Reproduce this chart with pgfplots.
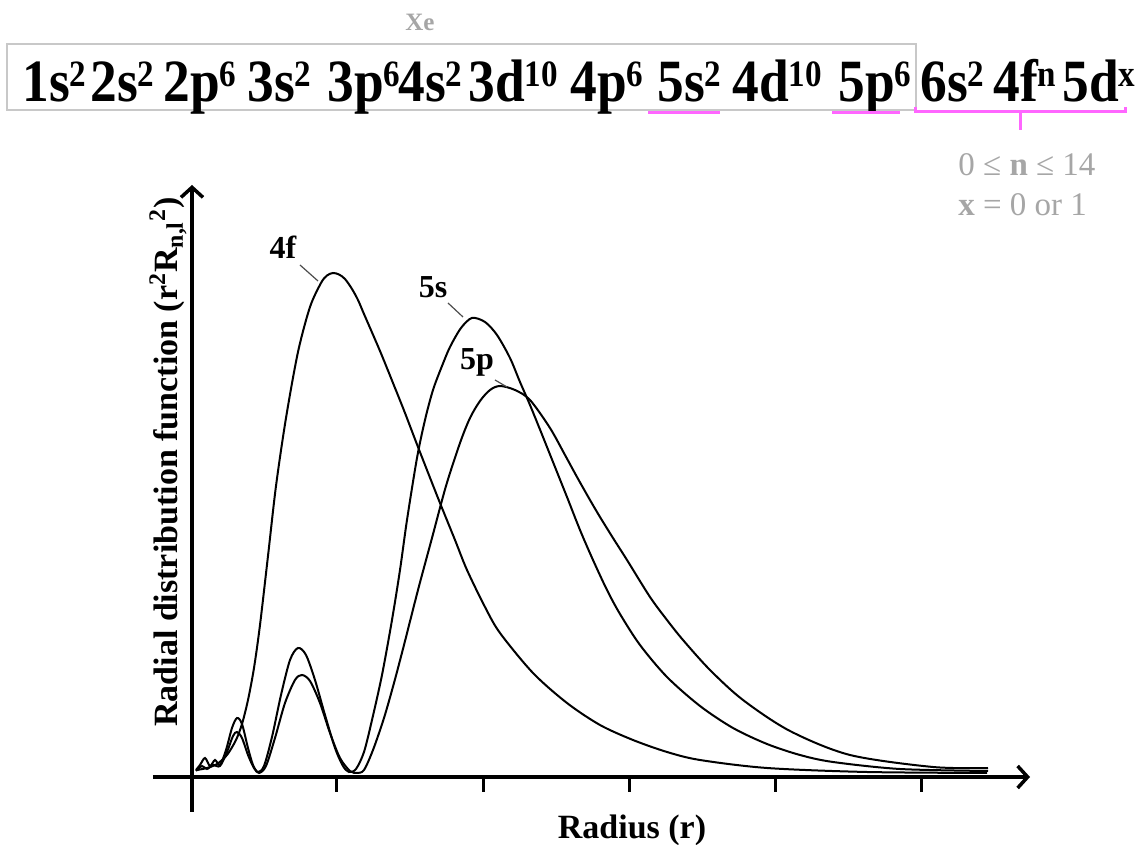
\documentclass[border=0pt]{standalone}
\usepackage{fontspec}
\setmainfont{Liberation Serif}
\usepackage{graphicx}
\usepackage{pgfplots}
\pgfplotsset{compat=1.18}
\usetikzlibrary{arrows.meta}
\definecolor{mag}{HTML}{FF66FF}
\definecolor{gtxt}{HTML}{A6A6A6}
\definecolor{boxc}{HTML}{C8C8C8}
\newcommand{\sups}[1]{\raisebox{7.6pt}{\scalebox{0.62}{#1}}}
\newcommand{\term}[2]{\node[anchor=base west, inner sep=0pt, xscale=0.89, font=\fontsize{30}{34}\selectfont\bfseries] at (axis cs:#1,675) {#2};}
\begin{document}
\begin{tikzpicture}
\begin{axis}[
  scale only axis, width=438.5pt, height=313.5pt,
  xmin=-39, xmax=838, ymin=-35, ymax=592,
  axis lines=middle,
  axis line style={line width=1.75pt, -{Straight Barb[length=5pt,width=11pt]}},
  xtick={145,291,437,583,729}, xticklabels={}, ytick=\empty,
  tick align=outside, major tick length=7.5pt,
  tick style={line width=1.5pt, black},
  clip=false,
]
% 4f
\addplot[black, line width=1pt, smooth] coordinates {
(5,7) (15,9) (25,13) (35,22) (44,37) (50,53) (56,77) (62,109) (68,152) (76,221) (84,291) (94,359) (106,425) (118,470) (129,494) (135,501.5) (141,504) (147,502.5) (153,498) (160,488) (166,477) (172,463) (188,426) (201,394) (213,364) (226,330) (246,279) (263,237) (275,207) (293,170) (308,144) (341,104) (375,74) (408,52) (441,37) (475,25) (508,17) (575,9) (675,5) (795,4)
};
% 5s
\addplot[black, line width=1pt, smooth] coordinates {
(4,7) (8,12) (13,19) (18,11) (23,17) (28,12) (34,27) (40,49) (45,59) (50,53) (56,29) (61,12) (66,5) (72,11) (80,40) (89,82) (98,117) (106,129) (114,122) (123,97) (133,62) (143,29) (151,11) (157,5) (164,8) (172,25) (180,57) (190,102) (200,157) (208,207) (215,257) (225,319) (233,357) (241,387) (250,411) (258,430) (269,449) (280,459) (293,455) (305,442) (318,419) (328,395) (338,372) (351,340) (363,310) (375,280) (388,247) (401,217) (415,187) (428,163) (448,132) (475,100) (508,71) (541,49) (575,33) (608,22) (641,15) (708,8) (796,6)
};
% 5p
\addplot[black, line width=1pt, smooth] coordinates {
(4,6) (10,11) (15,8) (21,12) (28,11) (35,25) (41,41) (45,45) (50,39) (56,22) (62,9) (67,4) (74,11) (83,39) (93,74) (103,97) (110,102) (118,96) (128,74) (138,44) (148,19) (158,6) (165,4) (172,7) (181,27) (192,59) (202,94) (212,132) (226,187) (240,239) (254,291) (268,334) (278,359) (288,376) (298,387) (308,391) (323,387) (338,377) (358,349) (373,322) (385,300) (398,277) (408,260) (421,239) (435,217) (458,180) (475,157) (491,137) (518,107) (551,77) (598,46) (658,22) (741,10) (796,9)
};
% leader lines and curve labels
\draw[black!70, line width=0.6pt] (axis cs:108,512) -- (axis cs:126,496);
\draw[black!70, line width=0.6pt] (axis cs:256,474) -- (axis cs:271,460);
\draw[black!70, line width=0.6pt] (axis cs:303,397) -- (axis cs:315,390);
\node[font=\fontsize{16}{19}\selectfont\bfseries] at (axis cs:91,530) {4f};
\node[font=\fontsize{16}{19}\selectfont\bfseries] at (axis cs:241,490) {5s};
\node[font=\fontsize{16}{19}\selectfont\bfseries] at (axis cs:285,415) {5p};
% axis labels
\node[rotate=90, font=\fontsize{17}{20}\selectfont\bfseries] at (axis cs:-24,315) {Radial distribution function (r\textsuperscript{2}R\textsubscript{n,l}\textsuperscript{2})};
\node[font=\fontsize{17}{20}\selectfont\bfseries] at (axis cs:440,-53) {Radius (r)};
% top configuration
\node[text=gtxt, font=\fontsize{12.5}{15}\selectfont\bfseries] at (axis cs:228,755) {Xe};
\draw[boxc, line width=0.75pt] (axis cs:-185,667) rectangle (axis cs:724,733);
\term{-170}{1s\sups{2}}
\term{-102}{2s\sups{2}}
\term{-29}{2p\sups{6}}
\term{55}{3s\sups{2}}
\term{135}{3p\sups{6}}
\term{206}{4s\sups{2}}
\term{276}{3d\sups{10}}
\term{378}{4p\sups{6}}
\term{465}{5s\sups{2}}
\term{540}{4d\sups{10}}
\term{646}{5p\sups{6}}
\term{728}{6s\sups{2}}
\term{801}{4f\sups{n}}
\term{870}{5d\sups{x}}
\draw[mag, line width=1.5pt] (axis cs:456,664) -- (axis cs:528,664);
\draw[mag, line width=1.5pt] (axis cs:640,664) -- (axis cs:708,664);
\draw[mag, line width=1.5pt] (axis cs:723,670) -- (axis cs:723,665) -- (axis cs:933,665) -- (axis cs:933,670);
\draw[mag, line width=1.5pt] (axis cs:828,665) -- (axis cs:828,647);
\node[anchor=west, inner sep=0pt, text=gtxt, font=\fontsize{16.5}{19}\selectfont] at (axis cs:766,612) {0 ≤ \textbf{n} ≤ 14};
\node[anchor=west, inner sep=0pt, text=gtxt, font=\fontsize{16.5}{19}\selectfont] at (axis cs:766,572) {\textbf{x} = 0 or 1};
\coordinate (bbA) at (axis cs:-192,-68);
\coordinate (bbB) at (axis cs:949,777);
\end{axis}
\pgfresetboundingbox
\path[use as bounding box] (bbA) rectangle (bbB);
\end{tikzpicture}
\end{document}
